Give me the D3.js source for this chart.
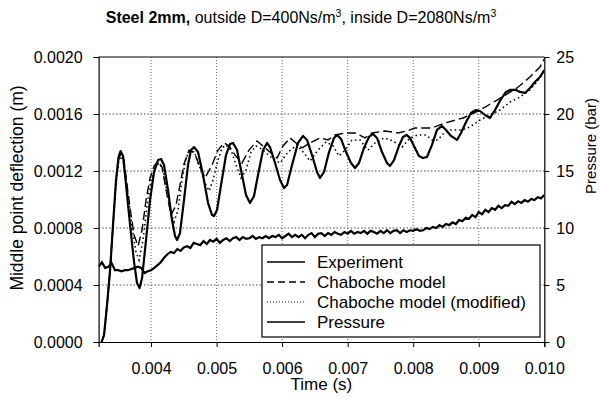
<!DOCTYPE html>
<html>
<head>
<meta charset="utf-8">
<script src="https://cdn.jsdelivr.net/npm/d3@7"></script>
<style>
    body { margin: 0; background: #fff; }
    svg { display: block; font-family: "Liberation Sans", Arial, Helvetica, sans-serif; }
</style>
</head>
<body>
<script>
// time in ms, deflection in mm (axis labels are shown in s and m)

// Experiment
var expTime = [
    3.245,3.283,3.329,3.375,3.420,3.466,3.504,3.535,3.573,3.619,
    3.680,3.741,3.786,3.825,3.863,3.924,3.985,4.046,4.107,4.153,
    4.198,4.259,4.320,4.366,4.397,4.442,4.503,4.564,4.610,4.656,
    4.717,4.793,4.870,4.931,4.961,5.007,5.068,5.144,5.205,5.251,
    5.312,5.388,5.449,5.510,5.571,5.632,5.709,5.770,5.815,5.892,
    5.968,6.029,6.075,6.151,6.243,6.319,6.380,6.456,6.532,6.578,
    6.639,6.716,6.792,6.838,6.899,6.975,7.051,7.112,7.173,7.249,
    7.326,7.387,7.448,7.524,7.600,7.646,7.707,7.783,7.844,7.898,
    7.951,8.027,8.088,8.149,8.210,8.287,8.363,8.439,8.500,8.577,
    8.668,8.729,8.806,8.882,8.958,9.019,9.095,9.172,9.248,9.340,
    9.416,9.477,9.568,9.629,9.706,9.782,9.858,9.934,10.000
];
var expDefl = [
    0,0.049,0.260,0.505,0.821,1.137,1.298,1.340,1.305,1.102,
    0.821,0.561,0.414,0.379,0.449,0.716,0.997,1.193,1.277,1.284,
    1.242,1.067,0.856,0.744,0.716,0.765,0.997,1.242,1.347,1.368,
    1.333,1.172,0.975,0.891,0.884,0.926,1.102,1.312,1.390,1.397,
    1.347,1.172,1.032,0.975,1.025,1.172,1.347,1.397,1.368,1.256,
    1.137,1.081,1.102,1.242,1.397,1.446,1.418,1.312,1.193,1.151,
    1.193,1.333,1.432,1.453,1.425,1.333,1.256,1.221,1.256,1.362,
    1.439,1.460,1.432,1.333,1.256,1.235,1.277,1.376,1.439,1.453,
    1.432,1.362,1.305,1.291,1.298,1.383,1.488,1.516,1.488,1.446,
    1.418,1.467,1.544,1.607,1.628,1.621,1.593,1.572,1.628,1.705,
    1.755,1.769,1.769,1.755,1.748,1.783,1.825,1.860,1.909
];

// Chaboche model
var chabTime = [
    3.245,3.283,3.329,3.375,3.420,3.466,3.504,3.542,3.588,3.634,
    3.680,3.741,3.802,3.863,3.924,3.985,4.046,4.107,4.168,4.229,
    4.305,4.381,4.442,4.503,4.580,4.656,4.732,4.824,4.931,5.022,
    5.114,5.190,5.281,5.388,5.495,5.617,5.739,5.831,5.922,6.014,
    6.121,6.212,6.304,6.426,6.578,6.700,6.807,6.960,7.112,7.265,
    7.372,7.570,7.768,7.905,8.027,8.180,8.287,8.485,8.760,9.019,
    9.279,9.584,9.782,9.934,10.000
];
var chabDefl = [
    0,0.049,0.260,0.505,0.821,1.123,1.277,1.326,1.277,1.102,
    0.940,0.751,0.674,0.786,0.997,1.151,1.235,1.270,1.228,1.067,
    0.891,0.961,1.102,1.249,1.347,1.333,1.242,1.151,1.242,1.347,
    1.397,1.376,1.312,1.256,1.347,1.411,1.362,1.326,1.291,1.376,
    1.432,1.397,1.362,1.397,1.432,1.418,1.453,1.467,1.467,1.432,
    1.467,1.481,1.467,1.481,1.502,1.502,1.502,1.537,1.572,1.628,
    1.698,1.783,1.860,1.930,1.986
];

// Chaboche model (modified)
var modTime = [
    3.245,3.283,3.329,3.375,3.420,3.466,3.504,3.542,3.588,3.649,
    3.710,3.771,3.817,3.878,3.939,4.000,4.061,4.122,4.183,4.244,
    4.305,4.351,4.412,4.473,4.534,4.595,4.671,4.748,4.824,4.885,
    4.946,5.022,5.083,5.144,5.220,5.297,5.373,5.449,5.526,5.602,
    5.709,5.846,5.968,6.090,6.227,6.334,6.426,6.548,6.670,6.777,
    6.868,6.960,7.066,7.188,7.310,7.417,7.555,7.692,7.829,7.951,
    8.073,8.195,8.287,8.378,8.470,8.561,8.653,8.744,8.867,9.019,
    9.172,9.324,9.477,9.629,9.782,9.934,10.000
];
var modDefl = [
    0,0.049,0.260,0.505,0.821,1.109,1.256,1.305,1.256,1.032,
    0.800,0.632,0.575,0.716,0.961,1.137,1.221,1.256,1.207,1.053,
    0.905,0.842,0.926,1.137,1.291,1.347,1.319,1.221,1.116,1.060,
    1.137,1.277,1.362,1.383,1.347,1.242,1.151,1.207,1.333,1.376,
    1.347,1.291,1.256,1.333,1.383,1.326,1.270,1.347,1.404,1.376,
    1.305,1.347,1.418,1.418,1.347,1.397,1.432,1.411,1.369,1.432,
    1.453,1.453,1.418,1.418,1.467,1.488,1.488,1.488,1.509,1.558,
    1.593,1.628,1.684,1.719,1.769,1.853,1.902
];

// Pressure (bar), right axis
var presTime = [
    3.20,3.25,3.30,3.35,3.40,3.45,3.50,3.55,3.60,3.65,
    3.70,3.75,3.80,3.85,3.90,3.95,4.00,4.05,4.10,4.15,
    4.20,4.25,4.30,4.35,4.40,4.45,4.50,4.55,4.60,4.65,
    4.70,4.75,4.80,4.85,4.90,4.95,5.00,5.05,5.10,5.15,
    5.20,5.25,5.30,5.35,5.40,5.45,5.50,5.55,5.60,5.65,
    5.70,5.75,5.80,5.85,5.90,5.95,6.00,6.05,6.10,6.15,
    6.20,6.25,6.30,6.35,6.40,6.45,6.50,6.55,6.60,6.65,
    6.70,6.75,6.80,6.85,6.90,6.95,7.00,7.05,7.10,7.15,
    7.20,7.25,7.30,7.35,7.40,7.45,7.50,7.55,7.60,7.65,
    7.70,7.75,7.80,7.85,7.90,7.95,8.00,8.05,8.10,8.15,
    8.20,8.25,8.30,8.35,8.40,8.45,8.50,8.55,8.60,8.65,
    8.70,8.75,8.80,8.85,8.90,8.95,9.00,9.05,9.10,9.15,
    9.20,9.25,9.30,9.35,9.40,9.45,9.50,9.55,9.60,9.65,
    9.70,9.75,9.80,9.85,9.90,9.95,10.00
];
var presBar = [
    6.6,7.0,6.5,6.6,6.9,6.3,6.3,6.2,6.3,6.3,
    6.4,6.5,6.6,6.5,6.05,6.2,6.3,6.5,6.75,7.0,
    7.4,7.7,7.9,7.8,8.15,8.0,8.3,8.4,8.25,8.7,
    8.6,8.5,8.85,8.6,8.95,8.8,9.05,8.7,8.95,9.1,
    8.85,9.1,9.2,8.95,9.2,9.05,9.1,9.3,9.05,9.2,
    9.1,9.3,9.1,9.3,9.2,9.4,9.1,9.3,9.5,9.2,
    9.4,9.2,9.4,9.1,9.4,9.55,9.2,9.5,9.55,9.3,
    9.55,9.4,9.65,9.5,9.4,9.65,9.5,9.75,9.5,9.65,
    9.55,9.75,9.5,9.75,9.65,9.5,9.75,9.55,9.8,9.55,
    9.75,9.8,9.55,9.8,9.65,9.8,9.75,9.9,9.75,9.8,
    10.0,9.9,10.1,10.0,10.25,10.1,10.35,10.25,10.5,10.35,
    10.7,10.6,10.9,10.8,11.15,10.95,11.4,11.2,11.6,11.4,
    11.75,11.6,11.95,11.75,12.0,11.95,12.3,12.1,12.35,12.2,
    12.45,12.3,12.55,12.45,12.7,12.6,12.9
];

// tick values
var timeTicks = [4, 5, 6, 7, 8, 9, 10];
var deflTicks = [0, 0.4, 0.8, 1.2, 1.6, 2.0];
var presTicks = [0, 5, 10, 15, 20, 25];

var seriesNames = ["Experiment", "Chaboche model", "Chaboche model (modified)", "Pressure"];

function init() {

    var margin = { top: 57, right: 55.7, bottom: 63, left: 98.6 };
    var w = 600 - margin.left - margin.right;
    var h = 405 - margin.top - margin.bottom;

    var xScale = d3.scaleLinear().domain([3.2, 10]).range([0, w]);
    var yScale = d3.scaleLinear().domain([0, 2]).range([h, 0]);
    var pScale = d3.scaleLinear().domain([0, 25]).range([h, 0]);

    var svg = d3.select("body")
        .append("svg")
        .attr("width", 600)
        .attr("height", 405);

    // title
    var title = svg.append("text")
        .attr("x", 301)
        .attr("y", 23)
        .attr("text-anchor", "middle")
        .attr("font-size", "16px")
        .attr("fill", "#000");
    title.append("tspan").attr("font-weight", "bold").text("Steel 2mm,");
    title.append("tspan").text(" outside D=400Ns/m");
    title.append("tspan").attr("dy", -6).attr("font-size", "10.5px").text("3");
    title.append("tspan").attr("dy", 6).text(", inside D=2080Ns/m");
    title.append("tspan").attr("dy", -6).attr("font-size", "10.5px").text("3");

    var g = svg.append("g")
        .attr("transform", "translate(" + margin.left + "," + margin.top + ")");

    g.append("clipPath").attr("id", "plotclip")
        .append("rect").attr("width", w).attr("height", h);

    // dotted grid
    g.selectAll(".hgrid")
        .data(deflTicks.slice(1, -1))
        .enter().append("line")
        .attr("x1", 0).attr("x2", w)
        .attr("y1", function(d) { return yScale(d); })
        .attr("y2", function(d) { return yScale(d); })
        .attr("stroke", "#444").attr("stroke-width", 1)
        .attr("stroke-dasharray", "1.5,2");

    g.selectAll(".vgrid")
        .data(timeTicks.slice(0, -1))
        .enter().append("line")
        .attr("y1", 0).attr("y2", h)
        .attr("x1", function(d) { return xScale(d); })
        .attr("x2", function(d) { return xScale(d); })
        .attr("stroke", "#666").attr("stroke-width", 1)
        .attr("stroke-dasharray", "1,2");

    // frame top
    g.append("line").attr("x1", 0).attr("x2", w).attr("y1", 0).attr("y2", 0)
        .attr("stroke", "#000").attr("stroke-width", 1.2);

    // axes
    var xAxis = d3.axisBottom(xScale)
        .tickValues(timeTicks)
        .tickSize(5).tickPadding(16)
        .tickFormat(function(d) { return (d / 1000).toFixed(3); });
    var yAxis = d3.axisLeft(yScale)
        .tickValues(deflTicks)
        .tickSize(5).tickPadding(11)
        .tickFormat(function(d) { return (d / 1000).toFixed(4); });
    var pAxis = d3.axisRight(pScale)
        .tickValues(presTicks)
        .tickSize(5).tickPadding(7);

    g.append("g").attr("transform", "translate(0," + h + ")").call(xAxis);
    g.append("g").call(yAxis);
    g.append("g").attr("transform", "translate(" + w + ",0)").call(pAxis);

    g.selectAll(".tick text").attr("font-size", "16px").attr("fill", "#000")
        .attr("font-family", "'Liberation Sans', Arial, sans-serif");
    g.selectAll(".domain").attr("stroke", "#000").attr("stroke-width", 1.2);
    g.selectAll(".tick line").attr("stroke", "#000");

    // axis titles
    svg.append("text")
        .attr("transform", "translate(23,188) rotate(-90)")
        .attr("text-anchor", "middle")
        .attr("font-size", "17.5px")
        .text("Middle point deflection (m)");

    svg.append("text")
        .attr("x", margin.left + w / 2)
        .attr("y", 390)
        .attr("text-anchor", "middle")
        .attr("font-size", "17px")
        .text("Time (s)");

    svg.append("text")
        .attr("transform", "translate(596,146) rotate(-90)")
        .attr("text-anchor", "middle")
        .attr("font-size", "15px")
        .text("Pressure (bar)");

    // lines
    var plot = g.append("g").attr("clip-path", "url(#plotclip)");

    function defLine(times, vals, scale) {
        return d3.line()
            .x(function(d, i) { return xScale(times[i]); })
            .y(function(d) { return scale(d); })(vals);
    }

    plot.append("path")
        .attr("d", defLine(presTime, presBar, pScale))
        .attr("fill", "none").attr("stroke", "#000").attr("stroke-width", 2.2);

    plot.append("path")
        .attr("d", defLine(modTime, modDefl, yScale))
        .attr("fill", "none").attr("stroke", "#000").attr("stroke-width", 1.6)
        .attr("stroke-dasharray", "1.5,3");

    plot.append("path")
        .attr("d", defLine(chabTime, chabDefl, yScale))
        .attr("fill", "none").attr("stroke", "#000").attr("stroke-width", 1.4)
        .attr("stroke-dasharray", "9,4");

    plot.append("path")
        .attr("d", defLine(expTime, expDefl, yScale))
        .attr("fill", "none").attr("stroke", "#000").attr("stroke-width", 2.2)
        .attr("stroke-linejoin", "round");

    // legend
    var legendStyles = [
        { dash: null, width: 1.5 },
        { dash: "7,4", width: 1.3 },
        { dash: "1,2", width: 1.2 },
        { dash: null, width: 1.5 }
    ];

    var legend = svg.append("g").attr("transform", "translate(262,245)");
    legend.append("rect")
        .attr("width", 278).attr("height", 92)
        .attr("fill", "#fff").attr("stroke", "#000").attr("stroke-width", 1.2);

    var items = legend.selectAll(".item")
        .data(seriesNames)
        .enter().append("g")
        .attr("transform", function(d, i) { return "translate(0," + (17 + i * 20) + ")"; });

    items.append("line")
        .attr("x1", 5).attr("x2", 43)
        .attr("stroke", "#000")
        .attr("stroke-width", function(d, i) { return legendStyles[i].width; })
        .attr("stroke-dasharray", function(d, i) { return legendStyles[i].dash; });

    items.append("text")
        .attr("x", 55).attr("y", 6)
        .attr("font-size", "17px")
        .text(function(d) { return d; });
}

window.onload = init;
</script>
</body>
</html>
